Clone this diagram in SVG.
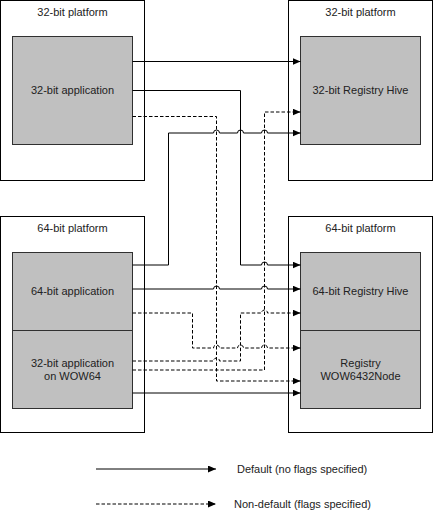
<svg xmlns="http://www.w3.org/2000/svg" width="433" height="512" viewBox="0 0 433 512">
<style>
.plat{fill:#ffffff;stroke:#000000;stroke-width:1}
.box{fill:#c0c0c0;stroke:#303030;stroke-width:1}
text{font-family:"Liberation Sans",Arial,sans-serif;font-size:11px;fill:#222222;text-anchor:middle}
.c{fill:none;stroke:#000000;stroke-width:1}
.d{stroke-dasharray:3.5,2}
.lt{text-anchor:start}
</style>
<defs>
<marker id="ah" markerUnits="userSpaceOnUse" markerWidth="9" markerHeight="8" refX="8" refY="3.5" orient="auto">
<path d="M0,0 L8,3.5 L0,7 z" fill="#000000"/>
</marker>
</defs>
<rect width="433" height="512" fill="#ffffff"/>
<g id="platform-32-left">
<rect class="plat" x="0.5" y="0.5" width="144" height="180"/>
<text x="72.5" y="16">32-bit platform</text>
</g>
<g id="app-32">
<rect class="box" x="12.5" y="36.5" width="120" height="108"/>
<text x="72.5" y="94">32-bit application</text>
</g>
<g id="platform-32-right">
<rect class="plat" x="288.5" y="0.5" width="144" height="180"/>
<text x="360.5" y="16">32-bit platform</text>
</g>
<g id="hive-32">
<rect class="box" x="300.5" y="36.5" width="120" height="108"/>
<text x="360.5" y="94">32-bit Registry Hive</text>
</g>
<g id="platform-64-left">
<rect class="plat" x="0.5" y="216.5" width="144" height="216"/>
<text x="72.5" y="232">64-bit platform</text>
</g>
<g id="app-64">
<rect class="box" x="12.5" y="252.5" width="120" height="78"/>
<text x="72.5" y="295">64-bit application</text>
</g>
<g id="app-wow64">
<rect class="box" x="12.5" y="330.5" width="120" height="78"/>
<text x="72.5" y="367">32-bit application</text>
<text x="72.5" y="380">on WOW64</text>
</g>
<g id="platform-64-right">
<rect class="plat" x="288.5" y="216.5" width="144" height="216"/>
<text x="360.5" y="232">64-bit platform</text>
</g>
<g id="hive-64">
<rect class="box" x="300.5" y="252.5" width="120" height="78"/>
<text x="360.5" y="295">64-bit Registry Hive</text>
</g>
<g id="wow6432node">
<rect class="box" x="300.5" y="330.5" width="120" height="78"/>
<text x="360.5" y="367">Registry</text>
<text x="360.5" y="380">WOW6432Node</text>
</g>
<g id="connectors">
<path class="c" d="M132.5,61.5 H300.5" marker-end="url(#ah)"/>
<path class="c" d="M132.5,90.5 H240.5 V265 H261.5 a3,3 0 0 1 6,0 H300.5" marker-end="url(#ah)"/>
<path class="c d" d="M132.5,116.5 H216.5 V381 H300.5" marker-end="url(#ah)"/>
<path class="c" d="M132.5,265 H168.5 V133 H213.5 a3,3 0 0 1 6,0 H237.5 a3,3 0 0 1 6,0 H261.5 a3,3 0 0 1 6,0 H300.5" marker-end="url(#ah)"/>
<path class="c d" d="M132.5,370 H264.5 V112 H300.5" marker-end="url(#ah)"/>
<path class="c" d="M132.5,289 H213.5 a3,3 0 0 1 6,0 H261.5 a3,3 0 0 1 6,0 H300.5" marker-end="url(#ah)"/>
<path class="c d" d="M132.5,313 H192.5 V348 H213.5 a3,3 0 0 1 6,0 H237.5 a3,3 0 0 1 6,0 H261.5 a3,3 0 0 1 6,0 H300.5" marker-end="url(#ah)"/>
<path class="c d" d="M132.5,361 H213.5 a3,3 0 0 1 6,0 H240.5 V313 H261.5 a3,3 0 0 1 6,0 H300.5" marker-end="url(#ah)"/>
<path class="c" d="M132.5,393 H300.5" marker-end="url(#ah)"/>
</g>
<g id="legend">
<path class="c" d="M96,469 H216" marker-end="url(#ah)"/>
<text class="lt" x="237" y="473">Default (no flags specified)</text>
<path class="c d" d="M96,504 H216" marker-end="url(#ah)"/>
<text class="lt" x="234" y="508">Non-default (flags specified)</text>
</g>
</svg>
